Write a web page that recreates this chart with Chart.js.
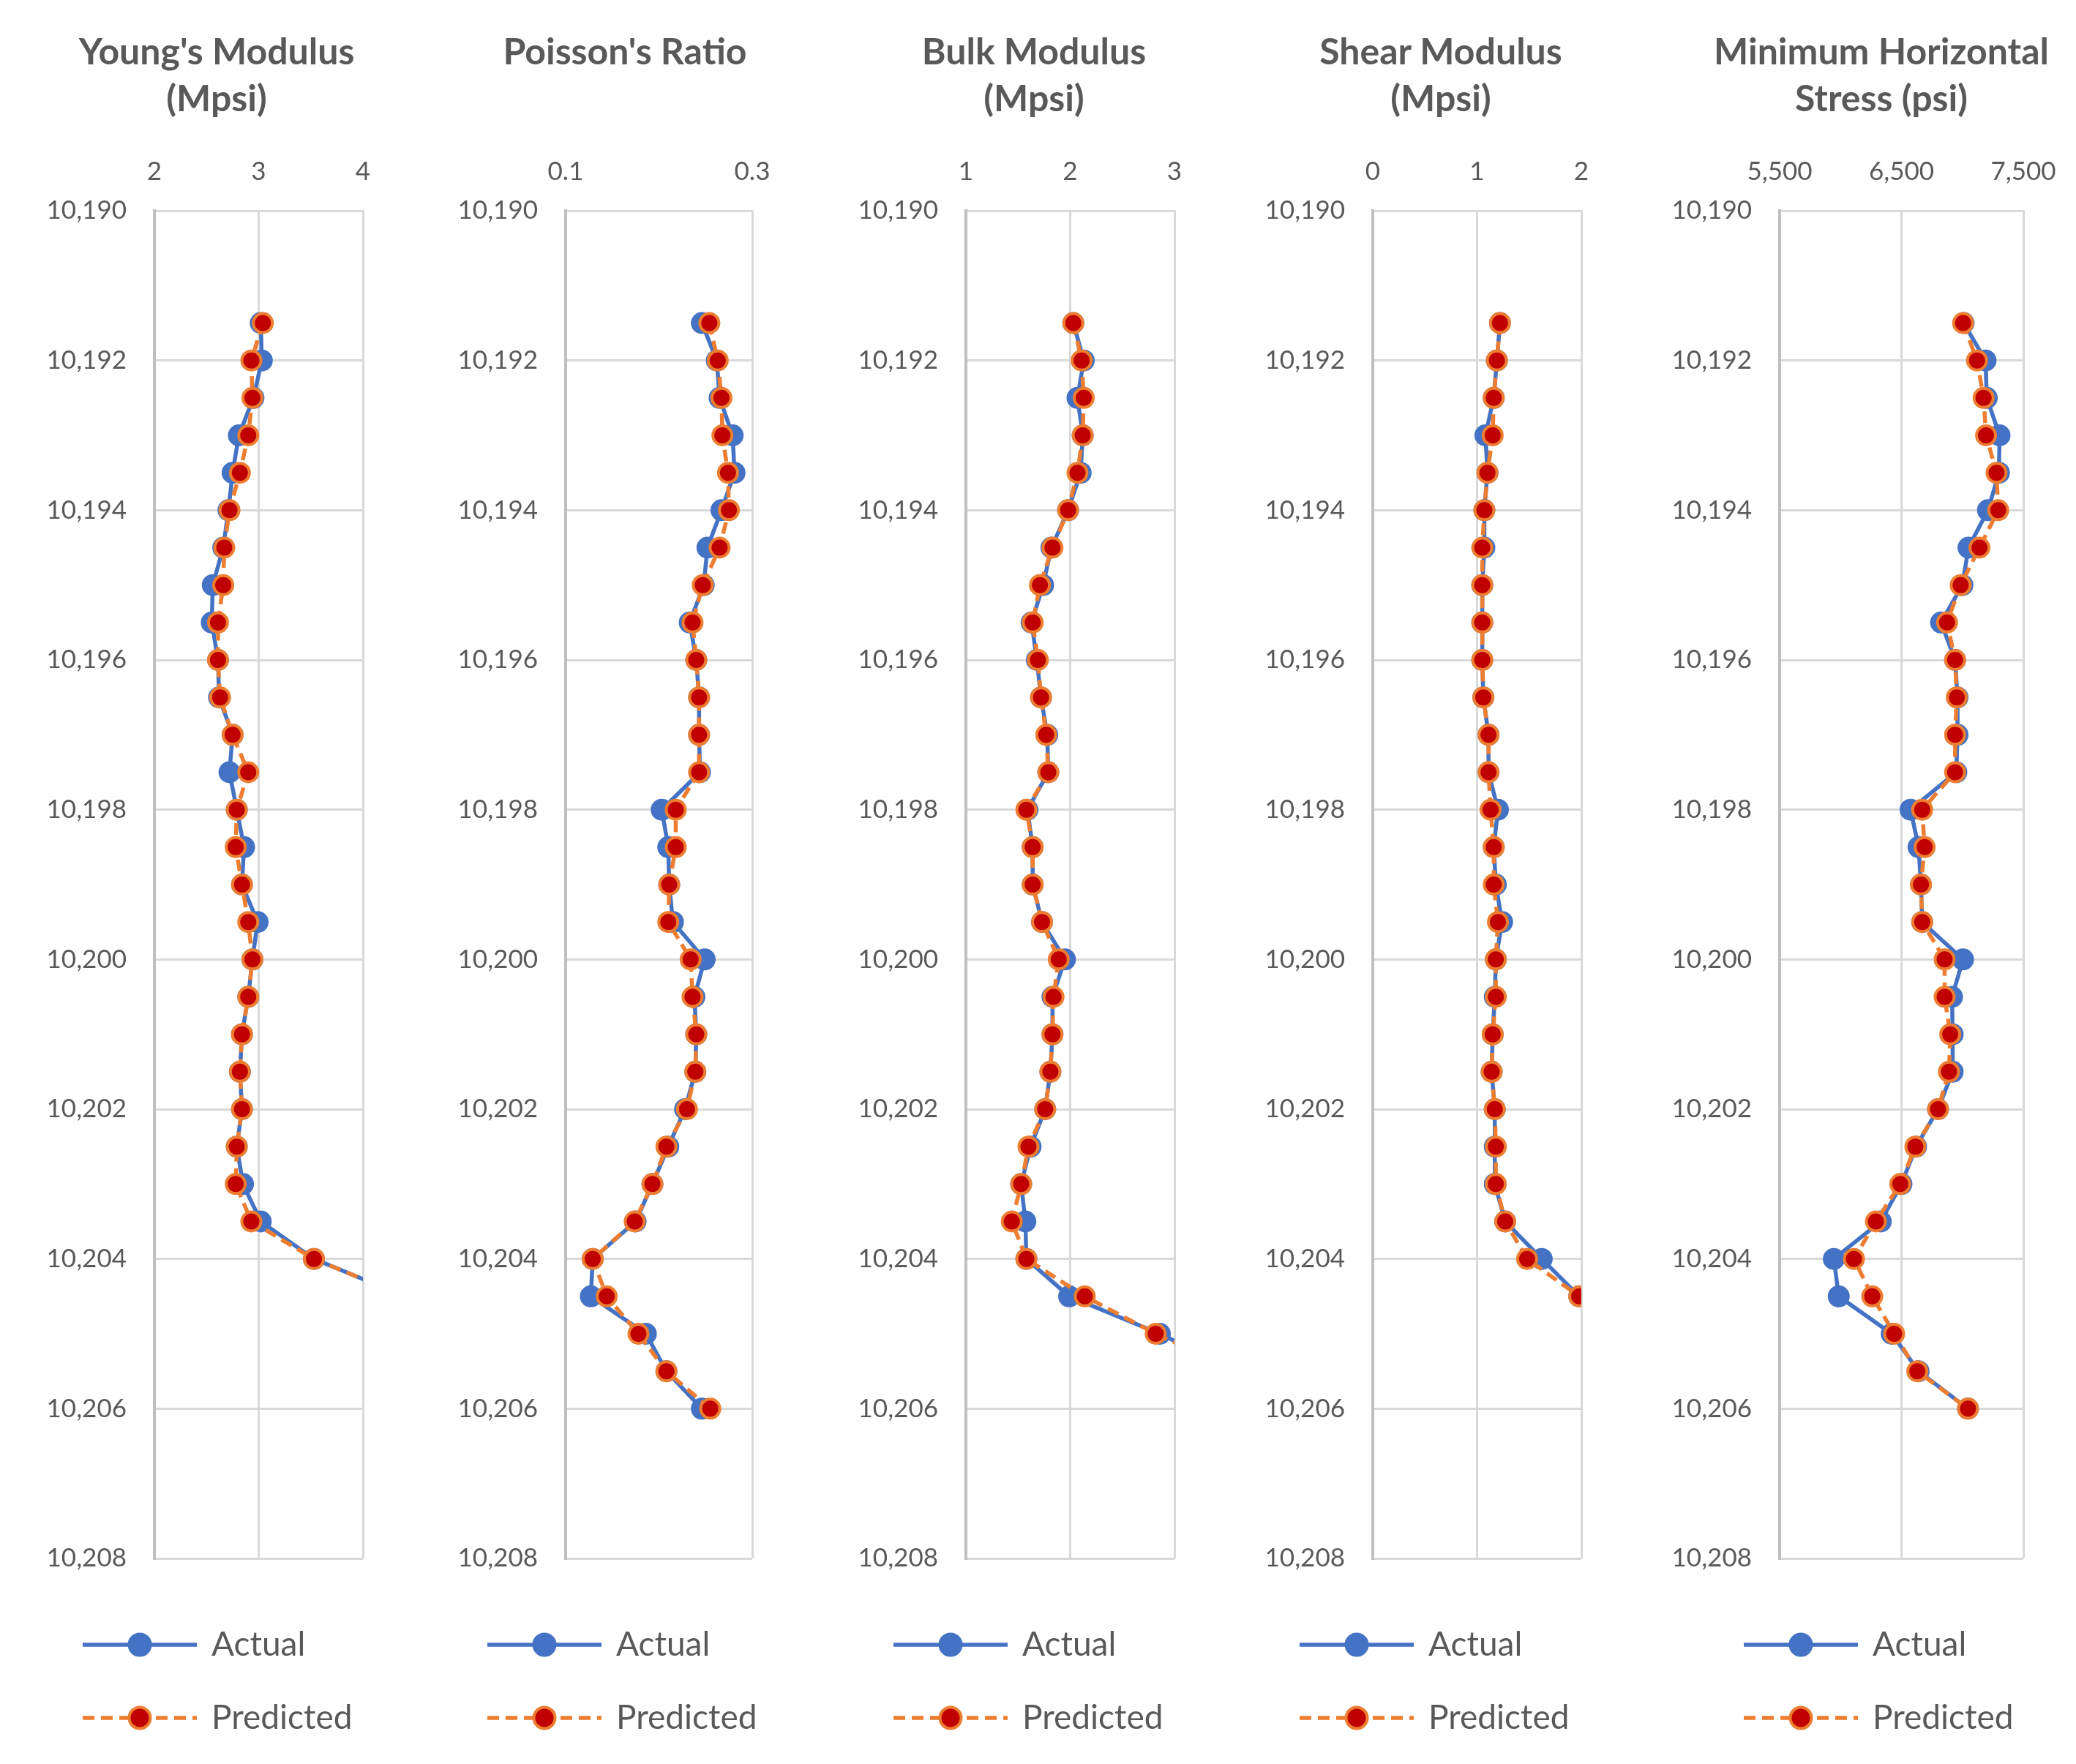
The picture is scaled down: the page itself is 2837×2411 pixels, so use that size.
<!DOCTYPE html>
<html>
<head>
<meta charset="utf-8">
<script src="https://cdn.jsdelivr.net/npm/chart.js@4.4.1/dist/chart.umd.min.js"></script>
<style>
  html, body { margin: 0; padding: 0; background: #fff; }
  body { width: 2837px; height: 2411px; position: relative; overflow: hidden; font-family: Lato, sans-serif; }
  .tit { position: absolute; top: 37px; width: 640px; text-align: center; font-weight: 700; font-size: 50px; line-height: 64px; color: #595959; }
  canvas { position: absolute; top: 0; }
</style>
</head>
<body>
<script>
// profundidad (ft), una lectura cada medio pie
const depth = [10191.5, 10192, 10192.5, 10193, 10193.5, 10194, 10194.5, 10195, 10195.5, 10196,
               10196.5, 10197, 10197.5, 10198, 10198.5, 10199, 10199.5, 10200, 10200.5, 10201,
               10201.5, 10202, 10202.5, 10203, 10203.5, 10204, 10204.5, 10205, 10205.5, 10206];
const depthTicks = [10190, 10192, 10194, 10196, 10198, 10200, 10202, 10204, 10206, 10208];

// Young's Modulus (Mpsi)
const youngActual = [3.02, 3.03, 2.95, 2.81, 2.75, 2.71, 2.66, 2.56, 2.55, 2.61,
                     2.62, 2.75, 2.72, 2.79, 2.86, 2.84, 2.99, 2.94, 2.90, 2.84,
                     2.82, 2.84, 2.79, 2.85, 3.02, 3.53, 4.40];
const youngPred   = [3.04, 2.93, 2.94, 2.90, 2.82, 2.72, 2.67, 2.66, 2.61, 2.61,
                     2.63, 2.75, 2.90, 2.79, 2.78, 2.84, 2.90, 2.94, 2.90, 2.84,
                     2.82, 2.84, 2.79, 2.78, 2.93, 3.53, 4.40];
const youngTicks  = [2, 3, 4];

// Poisson's Ratio
const poissonActual = [0.246, 0.262, 0.265, 0.279, 0.281, 0.267, 0.252, 0.248, 0.233, 0.240,
                       0.243, 0.243, 0.244, 0.203, 0.210, 0.211, 0.215, 0.249, 0.238, 0.240,
                       0.239, 0.228, 0.210, 0.193, 0.175, 0.129, 0.127, 0.186, 0.208, 0.246];
const poissonPred   = [0.254, 0.263, 0.267, 0.268, 0.274, 0.275, 0.265, 0.247, 0.236, 0.240,
                       0.243, 0.243, 0.243, 0.218, 0.218, 0.211, 0.210, 0.234, 0.236, 0.240,
                       0.239, 0.230, 0.208, 0.193, 0.174, 0.129, 0.144, 0.178, 0.208, 0.255];
const poissonTicks  = [0.1, 0.3];

// Bulk Modulus (Mpsi)
const bulkActual = [2.03, 2.13, 2.07, 2.12, 2.10, 1.98, 1.82, 1.74, 1.63, 1.68,
                    1.72, 1.78, 1.79, 1.59, 1.64, 1.64, 1.73, 1.95, 1.83, 1.83,
                    1.81, 1.76, 1.62, 1.53, 1.57, 1.58, 1.99, 2.86, 3.60];
const bulkPred   = [2.03, 2.11, 2.13, 2.12, 2.07, 1.98, 1.83, 1.71, 1.64, 1.69,
                    1.72, 1.77, 1.79, 1.58, 1.64, 1.64, 1.73, 1.89, 1.84, 1.83,
                    1.81, 1.76, 1.60, 1.53, 1.44, 1.58, 2.14, 2.82, 3.60];
const bulkTicks  = [1, 2, 3];

// Shear Modulus (Mpsi)
const shearActual = [1.22, 1.19, 1.16, 1.08, 1.10, 1.07, 1.07, 1.05, 1.05, 1.05,
                     1.06, 1.11, 1.11, 1.20, 1.16, 1.18, 1.24, 1.18, 1.17, 1.15,
                     1.14, 1.17, 1.17, 1.17, 1.27, 1.62, 1.98];
const shearPred   = [1.22, 1.19, 1.16, 1.15, 1.10, 1.07, 1.05, 1.05, 1.05, 1.05,
                     1.06, 1.11, 1.11, 1.13, 1.16, 1.16, 1.20, 1.18, 1.18, 1.15,
                     1.14, 1.17, 1.18, 1.18, 1.27, 1.48, 1.98];
const shearTicks  = [0, 1, 2];

// Minimum Horizontal Stress (psi)
const stressActual = [7010, 7190, 7200, 7305, 7300, 7210, 7050, 7000, 6825, 6940,
                      6960, 6960, 6950, 6575, 6640, 6660, 6670, 7005, 6915, 6920,
                      6920, 6800, 6620, 6500, 6330, 5945, 5985, 6420, 6640, 7046];
const stressPred   = [7006, 7120, 7174, 7194, 7280, 7294, 7140, 6986, 6874, 6940,
                      6954, 6940, 6940, 6670, 6690, 6660, 6670, 6854, 6854, 6900,
                      6890, 6800, 6614, 6490, 6290, 6110, 6260, 6440, 6630, 7046];
const stressTicks  = [5500, 6500, 7500];

const azul = '#4472C4', naranja = '#ED7D31', rojo = '#C00000';
const gris = '#595959', rejilla = '#D9D9D9';

Chart.defaults.font.family = 'Lato';
Chart.defaults.color = gris;

/* PANELES (posicion en px de la pagina) */
const paneles = [
  { titulo: ["Young's Modulus", "(Mpsi)"], actual: youngActual, pred: youngPred,
    ticks: youngTicks, izq: 211, der: 496, ley: 116, centro: 296 },
  { titulo: ["Poisson's Ratio"], actual: poissonActual, pred: poissonPred,
    ticks: poissonTicks, izq: 773, der: 1028, ley: 669, centro: 854 },
  { titulo: ["Bulk Modulus", "(Mpsi)"], actual: bulkActual, pred: bulkPred,
    ticks: bulkTicks, izq: 1320, der: 1605, ley: 1224, centro: 1413 },
  { titulo: ["Shear Modulus", "(Mpsi)"], actual: shearActual, pred: shearPred,
    ticks: shearTicks, izq: 1876, der: 2161, ley: 1779, centro: 1969 },
  { titulo: ["Minimum Horizontal", "Stress (psi)"], actual: stressActual, pred: stressPred,
    ticks: stressTicks, izq: 2432, der: 2765, ley: 2386, centro: 2571 }
];

const padIzq = 110, padAbajo = 30;
const altoEjeX = 288, huecoAbajo = 41, huecoDer = 110;
const fuenteLey = 46, padLey = 54;

function iconoLeyenda(linea, relleno, borde, guiones) {
  const c = document.createElement('canvas');
  c.width = 156; c.height = 40;
  const g = c.getContext('2d');
  g.strokeStyle = linea;
  g.lineWidth = 5.5;
  g.setLineDash(guiones);
  g.beginPath(); g.moveTo(0, 20); g.lineTo(156, 20); g.stroke();
  g.setLineDash([]);
  g.beginPath(); g.arc(78, 20, 14.5, 0, 2 * Math.PI);
  g.fillStyle = relleno; g.fill();
  g.lineWidth = 4; g.strokeStyle = borde; g.stroke();
  return c;
}

const iconos = [
  iconoLeyenda(azul, azul, azul, []),
  iconoLeyenda(naranja, rojo, naranja, [16, 9])
];

function puntos(valores) {
  return valores.map((v, i) => ({ x: v, y: depth[i] }));
}

paneles.forEach(p => {
  // titulo
  let tit = document.createElement('div');
  tit.className = 'tit';
  tit.style.left = (p.centro - 320) + 'px';
  tit.innerHTML = p.titulo.join('<br>');
  document.body.appendChild(tit);

  // lienzo
  const izqLienzo = p.ley - padLey - padIzq;
  const anchoY = p.izq - (p.ley - padLey);
  let lienzo = document.createElement('canvas');
  lienzo.width = p.der + huecoDer - izqLienzo;
  lienzo.height = 2411;
  lienzo.style.left = izqLienzo + 'px';
  document.body.appendChild(lienzo);

  new Chart(lienzo.getContext('2d'), {
    type: 'line',
    data: {
      datasets: [{
        label: 'Actual',
        data: puntos(p.actual),
        xAxisID: 'x', yAxisID: 'y',
        order: 2,
        borderColor: azul,
        borderWidth: 5.5,
        pointRadius: 14,
        pointBackgroundColor: azul,
        pointBorderColor: azul,
        pointBorderWidth: 2,
        tension: 0
      }, {
        label: 'Predicted',
        data: puntos(p.pred),
        xAxisID: 'x', yAxisID: 'y',
        order: 1,
        borderColor: naranja,
        borderWidth: 5.5,
        borderDash: [16, 9],
        pointRadius: 13,
        pointBackgroundColor: rojo,
        pointBorderColor: naranja,
        pointBorderWidth: 4,
        tension: 0
      }]
    },
    options: {
      indexAxis: 'y',
      responsive: false,
      animation: false,
      events: [],
      layout: { padding: { left: padIzq, right: 0, top: 0, bottom: padAbajo } },
      scales: {
        x: {
          type: 'linear',
          position: 'top',
          min: p.ticks[0], max: p.ticks[p.ticks.length - 1],
          afterBuildTicks(s) { s.ticks = p.ticks.map(v => ({ value: v })); },
          ticks: { padding: 32, color: gris, font: { size: 35 } },
          grid: { color: rejilla, lineWidth: 3, drawTicks: false },
          border: { display: true, color: rejilla, width: 3 },
          afterFit(s) { s.height = altoEjeX; s.paddingLeft = 0; s.paddingRight = 0; }
        },
        y: {
          type: 'linear',
          reverse: true,
          min: depthTicks[0], max: depthTicks[depthTicks.length - 1],
          afterBuildTicks(s) { s.ticks = depthTicks.map(v => ({ value: v })); },
          ticks: { padding: 38, color: gris, font: { size: 35 } },
          grid: { color: rejilla, lineWidth: 3, drawTicks: false },
          border: { display: true, color: '#BFBFBF', width: 4 },
          afterFit(s) {
            s.width = anchoY; s.paddingTop = 0; s.paddingBottom = 0;
            // las etiquetas pueden salir del ancho fijo del eje: sin recorte
            s._computeLabelArea = () => undefined;
          }
        },
        huecoAbajo: {
          type: 'linear',
          axis: 'x',
          position: 'bottom',
          ticks: { display: false },
          grid: { display: false },
          border: { display: false },
          afterFit(s) { s.height = huecoAbajo; }
        },
        huecoDer: {
          type: 'linear',
          axis: 'y',
          position: 'right',
          ticks: { display: false },
          grid: { display: false },
          border: { display: false },
          afterFit(s) { s.width = huecoDer; }
        }
      },
      plugins: {
        tooltip: { enabled: false },
        legend: {
          position: 'bottom',
          align: 'start',
          labels: {
            usePointStyle: true,
            pointStyleWidth: 150,
            padding: padLey,
            color: gris,
            font: { size: fuenteLey },
            generateLabels(chart) {
              const items = Chart.defaults.plugins.legend.labels.generateLabels(chart);
              items.forEach(it => { it.pointStyle = iconos[it.datasetIndex]; });
              return items;
            },
            sort: (a, b) => a.datasetIndex - b.datasetIndex
          }
        }
      }
    }
  });
});
</script>
</body>
</html>
